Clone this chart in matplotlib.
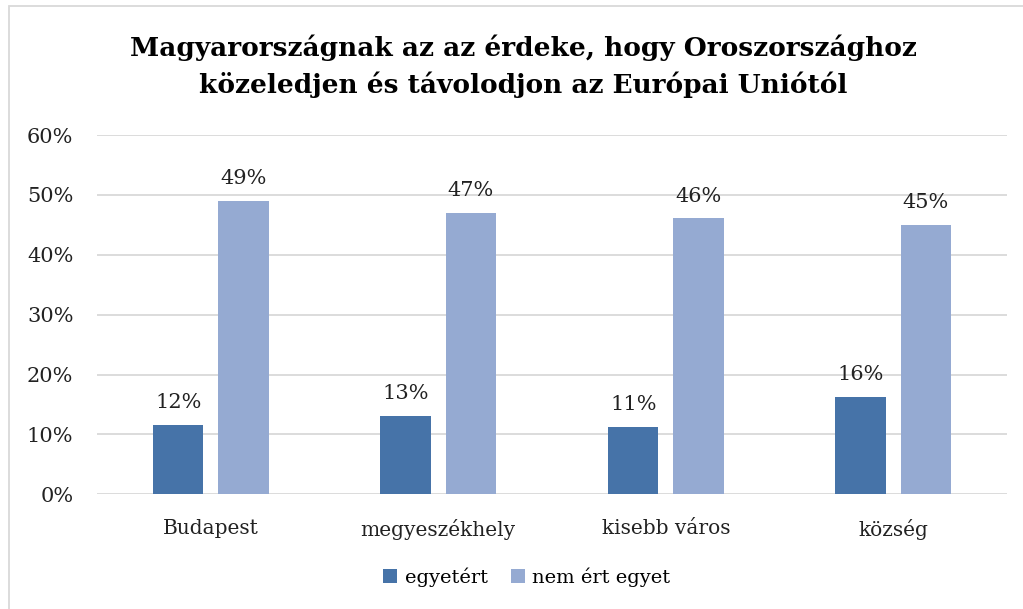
import numpy as np
import matplotlib.pyplot as plt
from matplotlib.patches import Rectangle

categories = ['Budapest', 'megyeszékhely', 'kisebb város', 'község']
egyetert = [11.6, 13.1, 11.3, 16.3]
nem_ert_egyet = [49.0, 47.0, 46.1, 45.0]
egyetert_labels = ['12%', '13%', '11%', '16%']
nem_ert_labels = ['49%', '47%', '46%', '45%']
yticks = [0, 10, 20, 30, 40, 50, 60]

dark = '#4673A8'
light = '#95AAD2'

plt.rcParams['font.family'] = ['DejaVu Serif']

fig = plt.figure(figsize=(10.23, 6.09), dpi=100)
ax = fig.add_axes([97/1023, 1-494.3/609, 910/1023, 359.3/609])

x = np.arange(len(categories))
w = 0.222
off = 0.143
b1 = ax.bar(x - off, egyetert, w, color=dark, label='egyetért', zorder=3)
b2 = ax.bar(x + off, nem_ert_egyet, w, color=light, label='nem ért egyet', zorder=3)

for bars, labs in [(b1, egyetert_labels), (b2, nem_ert_labels)]:
    for r, t in zip(bars, labs):
        ax.annotate(t, (r.get_x() + r.get_width()/2, r.get_height()),
                    xytext=(0, 9), textcoords='offset points',
                    ha='center', va='bottom', fontsize=15, color='#222222')

ax.set_xlim(-0.5, 3.5)
ax.set_ylim(0, 60)
ax.set_yticks(yticks)
ax.set_yticklabels([f'{v}%' for v in yticks], fontsize=15, color='#222222')
ax.set_xticks(x)
ax.set_xticklabels(categories, fontsize=14.5, color='#222222')
ax.tick_params(axis='both', length=0)
ax.tick_params(axis='x', pad=18)
ax.tick_params(axis='y', pad=17)
ax.grid(axis='y', color='#d9d9d9', linewidth=1.3, zorder=0)
for s in ax.spines.values():
    s.set_visible(False)

fig.text(523/1023, 1-48/609, 'Magyarországnak az az érdeke, hogy Oroszországhoz',
         ha='center', va='center', fontsize=19, fontweight='bold')
fig.text(523/1023, 1-85/609, 'közeledjen és távolodjon az Európai Uniótól',
         ha='center', va='center', fontsize=19, fontweight='bold')

fig.legend(loc='center', bbox_to_anchor=(527/1023, 1-577/609), ncol=2,
           frameon=False, fontsize=14, handlelength=0.7, handleheight=0.7,
           columnspacing=1.2, handletextpad=0.4)

fig.patches.append(Rectangle((9/1023, -0.1), 1.1, 1-6/609+0.1, transform=fig.transFigure,
                             fill=False, edgecolor='#d9d9d9', linewidth=1.3))

fig.savefig('out.png', dpi=100)
